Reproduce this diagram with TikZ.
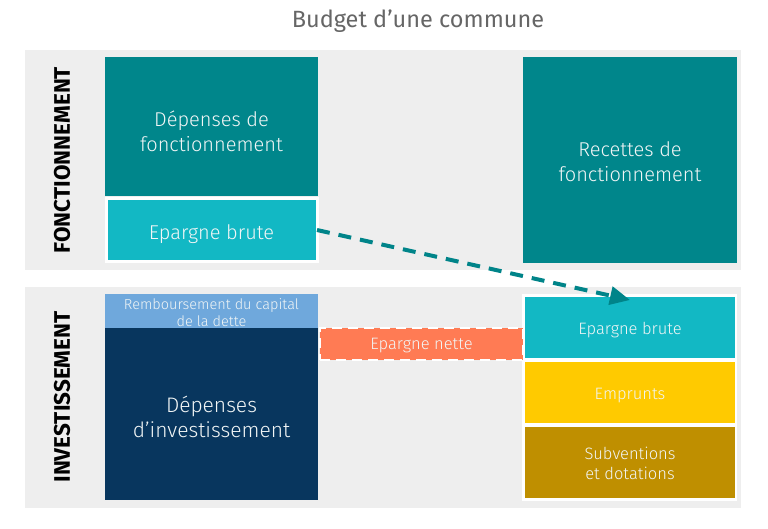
\documentclass[tikz,border=0pt]{standalone}
\usepackage{fontspec}
\setmainfont{Fira Sans}
\newfontfamily\lightfont{Fira Sans Light}
\usetikzlibrary{arrows.meta}
\definecolor{panelgray}{HTML}{EEEEEE}
\definecolor{tealdark}{HTML}{00868B}
\definecolor{cyanb}{HTML}{12B8C4}
\definecolor{lightblue}{HTML}{6FA8DC}
\definecolor{navy}{HTML}{08365E}
\definecolor{orangeb}{HTML}{FF7B54}
\definecolor{yellowb}{HTML}{FFCA00}
\definecolor{goldb}{HTML}{BF8F00}
\definecolor{arrowc}{HTML}{008489}
\definecolor{titlec}{HTML}{666666}
\definecolor{textc}{HTML}{F2F6F6}
\tikzset{
  blk/.style={rectangle, inner sep=0pt, outer sep=0pt},
  blktext/.style={text=textc, align=center, inner sep=0pt},
  big/.style={font=\lightfont\fontsize{20}{25}\selectfont},
  mid/.style={font=\lightfont\fontsize{16.5}{20}\selectfont},
  panel/.style={rectangle, inner sep=0pt, outer sep=0pt, fill=panelgray},
  vlabel/.style={rotate=90, font=\bfseries\fontsize{22.5}{24}\selectfont, text=black, inner sep=0pt},
}
\begin{document}
\begin{tikzpicture}[x=1pt,y=-1pt]
\useasboundingbox (0,0) rectangle (768,528);
\fill[white] (0,0) rectangle (768,528);
% title
\node[font=\fontsize{23.5}{26}\selectfont, text=titlec, inner sep=0pt] (title) at (418,21) {Budget d’une commune};
% panels
\node[panel, minimum width=716pt, minimum height=220pt] (panelF) at (383,160) {};
\node[panel, minimum width=716pt, minimum height=221pt] (panelI) at (383,397.5) {};
% vertical labels
\node[vlabel] (labF) at (62,160) {FONCTIONNEMENT};
\node[vlabel] (labI) at (62,397) {INVESTISSEMENT};
% fonctionnement
\node[blk, fill=tealdark, minimum width=213pt, minimum height=139pt,
      label={[blktext, big, yshift=-5pt]center:{Dépenses de\\fonctionnement}}] (depF) at (211.5,126.5) {};
\node[blk, fill=cyanb, draw=white, line width=3pt, minimum width=211pt, minimum height=63pt,
      label={[blktext, big, yshift=-4.5pt]center:{Epargne brute}}] (ebL) at (211.5,230) {};
\node[blk, fill=tealdark, minimum width=214pt, minimum height=206pt,
      label={[blktext, big, yshift=-2pt]center:{Recettes de\\fonctionnement}}] (recF) at (630,160) {};
% investissement left
\node[blk, fill=lightblue, minimum width=213pt, minimum height=34pt,
      label={[blktext, font=\lightfont\fontsize{14.5}{16.5}\selectfont, yshift=-1.5pt]center:{Remboursement du capital\\de la dette}}] (remb) at (211.5,311) {};
\node[blk, fill=navy, minimum width=213pt, minimum height=172pt,
      label={[blktext, font=\lightfont\fontsize{21}{25}\selectfont, yshift=-3pt]center:{Dépenses\\d’investissement}}] (depI) at (211.5,414) {};
% right column
\node[rectangle, fill=white, inner sep=0pt, minimum width=215pt, minimum height=207pt] (frameR) at (629.5,397.5) {};
\node[blk, fill=cyanb, minimum width=210pt, minimum height=61pt,
      label={[blktext, mid, yshift=-3pt]center:{Epargne brute}}] (ebR) at (630,327.5) {};
\node[blk, fill=yellowb, minimum width=210pt, minimum height=61pt,
      label={[blktext, mid, yshift=-3pt]center:{Emprunts}}] (emp) at (630,392.5) {};
\node[blk, fill=goldb, minimum width=210pt, minimum height=71pt,
      label={[blktext, mid, yshift=-1pt]center:{Subventions\\et dotations}}] (sub) at (630,462.5) {};
% epargne nette
\node[blk, fill=orangeb, draw=white, line width=2.5pt, dash pattern=on 10pt off 6pt,
      minimum width=203pt, minimum height=32pt,
      label={[blktext, mid, yshift=-2pt]center:{Epargne nette}}] (nette) at (421.5,344) {};
% arrow
\draw[arrowc, line width=4pt, dash pattern=on 13pt off 9pt,
      -{Triangle[length=20pt,width=18pt]}] (ebL.east) -- ([yshift=-3pt]ebR.north);
\end{tikzpicture}
\end{document}
